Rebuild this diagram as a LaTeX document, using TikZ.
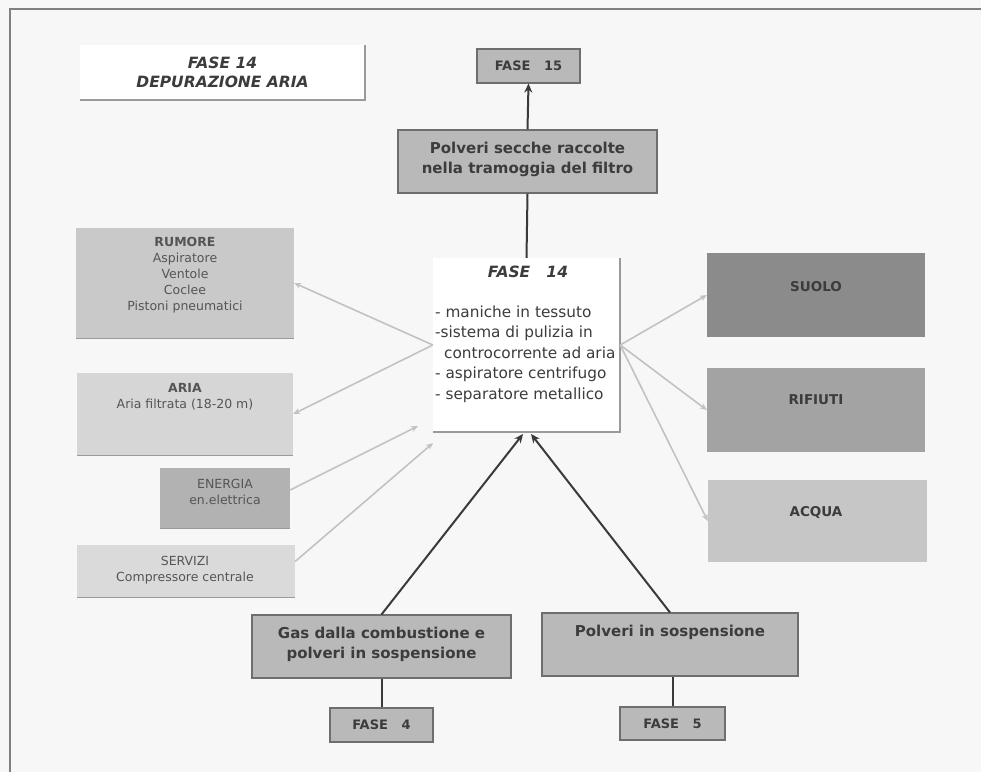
\documentclass[tikz,border=0pt]{standalone}
\usepackage{fontspec}
\setmainfont{DejaVu Sans}
\usetikzlibrary{arrows.meta}
\definecolor{bg}{HTML}{F7F7F7}
\definecolor{boxgray}{HTML}{B9B9B9}
\definecolor{boxline}{HTML}{6E6E6E}
\definecolor{frame}{HTML}{808080}
\definecolor{txt}{HTML}{3C3C3C}
\definecolor{ltxt}{HTML}{555555}
\definecolor{larrow}{HTML}{C2C2C2}
\definecolor{darrow}{HTML}{3A3A3A}
\definecolor{shadow}{HTML}{9A9A9A}
\definecolor{crum}{HTML}{C9C9C9}
\definecolor{caria}{HTML}{D6D6D6}
\definecolor{cen}{HTML}{B2B2B2}
\definecolor{cser}{HTML}{DADADA}
\definecolor{csuo}{HTML}{8B8B8B}
\definecolor{crif}{HTML}{A3A3A3}
\definecolor{cacq}{HTML}{C6C6C6}
\begin{document}
\begin{tikzpicture}[x=1pt,y=-1pt,
  gbox/.style={draw=boxline,fill=boxgray,line width=1.1pt,inner sep=0pt},
  sbox/.style={fill=#1,inner sep=0pt},
  btxt/.style={font=\bfseries\fontsize{15}{20}\selectfont,text=txt,align=center},
  ftxt/.style={font=\bfseries\fontsize{13}{15}\selectfont,text=txt},
  rtxt/.style={font=\bfseries\fontsize{13.5}{15}\selectfont,text=txt},
  ltx/.style={font=\fontsize{12.5}{16}\selectfont,text=ltxt,align=center},
  larr/.style={draw=larrow,line width=1.6pt,-{Stealth[length=7pt,width=6pt]}},
  darr/.style={draw=darrow,line width=2pt,-{Stealth[length=9pt,width=8pt]}},
  dline/.style={draw=darrow,line width=2pt}]
\useasboundingbox (0,0) rectangle (981,772);
\fill[bg] (0,0) rectangle (981,772);
\draw[frame,line width=1.4pt] (10,772) -- (10,9) -- (981,9);

% title
\node[sbox=white,minimum width=285pt,minimum height=55pt,align=center,
  font=\bfseries\itshape\fontsize{15.5}{19}\selectfont,text=txt] (title) at (222.5,72.5)
  {FASE 14\\DEPURAZIONE ARIA};
\draw[shadow,line width=1.5pt] (title.south west) -- (title.south east) -- (title.north east);

% top chain
\node[gbox,minimum width=103pt,minimum height=34pt] (f15) at (528.5,66) {};
\node[ftxt] (f15t) at (f15.center) {FASE\ \ \ 15};
\node[gbox,minimum width=259pt,minimum height=63pt] (ps) at (527.5,161.5) {};
\node[btxt] (pst) at (527.5,159) {Polveri secche raccolte\\nella tramoggia del filtro};

% centre box
\node[sbox=white,minimum width=187pt,minimum height=174pt] (c) at (526.5,345) {};
\draw[shadow,line width=1.5pt] (c.south west) -- (c.south east) -- (c.north east);
\node[font=\bfseries\itshape\fontsize{15.5}{16}\selectfont,text=txt] (ct) at (528,272) {FASE\ \ \ 14};
\node[anchor=west,align=left,inner sep=0pt,font=\fontsize{15.3}{20.5}\selectfont,text=txt] (cl) at (435,354)
  {- maniche in tessuto\\-sistema di pulizia in\\\hspace*{9pt}controcorrente ad aria\\- aspiratore centrifugo\\- separatore metallico};

% left boxes
\node[sbox=crum,minimum width=218pt,minimum height=110pt] (rum) at (185,283) {};
\draw[shadow,line width=1.2pt] (rum.south west) -- (rum.south east);
\node[ltx] (rumt) at (185,275) {\textbf{RUMORE}\\Aspiratore\\Ventole\\Coclee\\Pistoni pneumatici};

\node[sbox=caria,minimum width=216pt,minimum height=82pt] (aria) at (185,414) {};
\draw[shadow,line width=1.2pt] (aria.south west) -- (aria.south east);
\node[ltx] (ariat) at (185,397) {\textbf{ARIA}\\Aria filtrata (18-20 m)};

\node[sbox=cen,minimum width=130pt,minimum height=60pt] (en) at (225,498) {};
\draw[shadow,line width=1.2pt] (en.south west) -- (en.south east);
\node[ltx] (ent) at (225,492) {ENERGIA\\en.elettrica};

\node[sbox=cser,minimum width=218pt,minimum height=52pt] (ser) at (186,571) {};
\draw[shadow,line width=1.2pt] (ser.south west) -- (ser.south east);
\node[ltx] (sert) at (185,570) {SERVIZI\\Compressore centrale};

% right boxes
\node[sbox=csuo,minimum width=218pt,minimum height=84pt] (suo) at (816,295) {};
\node[rtxt] (suot) at (816,287) {SUOLO};
\node[sbox=crif,minimum width=218pt,minimum height=84pt] (rif) at (816,410) {};
\node[rtxt] (rift) at (816,400) {RIFIUTI};
\node[sbox=cacq,minimum width=219pt,minimum height=82pt] (acq) at (817.5,521) {};
\node[rtxt] (acqt) at (816,512) {ACQUA};

% bottom boxes
\node[gbox,minimum width=259pt,minimum height=63pt] (gas) at (381.5,646.5) {};
\node[btxt] (gast) at (381.5,644) {Gas dalla combustione e\\polveri in sospensione};
\node[gbox,minimum width=256pt,minimum height=63pt] (pss) at (670,644.5) {};
\node[btxt] (psst) at (670,632) {Polveri in sospensione};
\node[gbox,minimum width=103pt,minimum height=34pt] (f4) at (381.5,725) {};
\node[ftxt] (f4t) at (f4.center) {FASE\ \ \ 4};
\node[gbox,minimum width=105pt,minimum height=33pt] (f5) at (672.5,723.5) {};
\node[ftxt] (f5t) at (f5.center) {FASE\ \ \ 5};

% coordinates
\coordinate (cin1) at (523,434);
\coordinate (cin2) at (531,434);
\coordinate (enin) at (418,426);
\coordinate (serin) at (433,443);

% connectors
\draw[dline] (c.north) -- (ps.south);
\draw[darr] (ps.north) -- (f15.south);
\draw[darr] (gas.north) -- (cin1);
\draw[darr] (pss.north) -- (cin2);
\draw[dline] (gas.south) -- (f4.north);
\draw[dline] (f5.north) -- (f5.north |- pss.south);

\draw[larr] (c.west) -- (rum.east);
\draw[larr] (c.west) -- (aria.east);
\draw[larr] (en.7) -- (enin);
\draw[larr] (ser.5) -- (serin);
\draw[larr] (c.east) -- (suo.west);
\draw[larr] (c.east) -- (rif.west);
\draw[larr] (c.east) -- (acq.west);
\end{tikzpicture}
\end{document}
